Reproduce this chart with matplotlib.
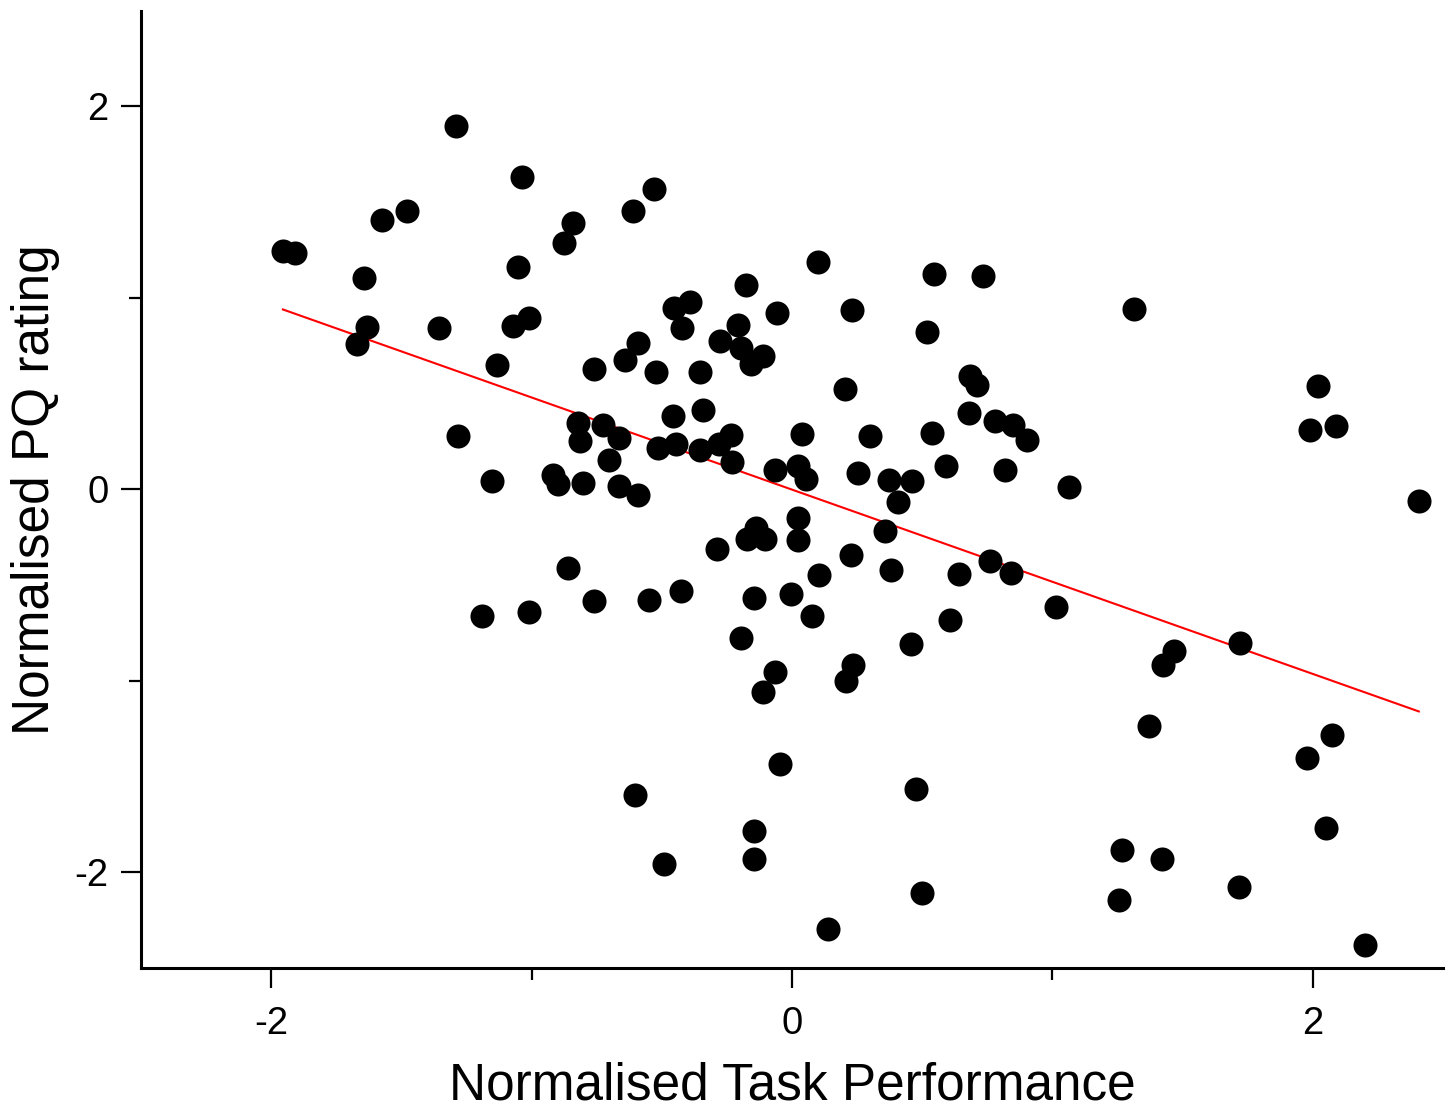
import numpy as np
import matplotlib
matplotlib.use("Agg")
import matplotlib.pyplot as plt
from matplotlib.ticker import MultipleLocator

plt.rcParams['font.family'] = ['Liberation Sans', 'DejaVu Sans']
plt.rcParams['axes.unicode_minus'] = False

# Normalised task performance (x) and normalised PQ rating (y) per participant
task_performance = [
    -1.292, -1.037, -1.574, -1.477, -0.839, -0.876, -1.955, -1.908, -1.643, -1.054,
    -1.633, -1.671, -1.356, -1.072, -1.009, -1.133, -0.762, -1.282, -0.822, -0.813,
    -0.726, -0.666, -0.701, -1.153, -0.918, -0.899, -0.803, -0.663, -0.592, -0.528,
    -0.609, 0.100, 0.544, 0.735, -0.176, -0.393, -0.452, -0.421, -0.058, 0.232,
    0.519, -0.209, -0.277, -0.196, -0.111, -0.158, -0.592, -0.640, -0.523, -0.355,
    0.202, 0.685, 0.712, 0.681, 0.778, 0.850, 0.903, -0.457, -0.342, -0.514,
    -0.446, -0.353, -0.281, -0.235, -0.231, 0.040, 0.298, 0.539, 0.593, 0.819,
    -0.066, 0.024, 0.052, 0.252, 0.371, 0.461, 0.408, 0.023, 0.023, 0.356,
    -0.137, -0.103, -0.174, -0.287, 0.228, 0.381, 0.104, -0.425, -0.146, -0.003,
    0.078, 0.642, 0.759, 0.840, 1.012, 0.608, -0.194, 0.456, 0.234, 0.206,
    -0.066, -0.112, -0.045, 0.475, -0.145, -0.145, 0.499, 0.138, -0.862, -0.761,
    -0.548, -1.190, -1.009, -0.601, -0.492, 1.315, 2.018, 1.991, 2.090, 2.407,
    1.064, 1.425, 1.468, 1.720, 1.370, 2.075, 1.976, 2.050, 1.269, 1.421,
    1.255, 1.716, 2.200,
]
pq_rating = [
    1.900, 1.630, 1.409, 1.454, 1.393, 1.287, 1.243, 1.235, 1.104, 1.162,
    0.848, 0.759, 0.843, 0.855, 0.895, 0.650, 0.629, 0.280, 0.348, 0.254,
    0.334, 0.268, 0.155, 0.044, 0.077, 0.028, 0.033, 0.019, -0.030, 1.569,
    1.456, 1.189, 1.125, 1.113, 1.069, 0.980, 0.948, 0.843, 0.919, 0.939,
    0.820, 0.856, 0.773, 0.736, 0.698, 0.654, 0.765, 0.677, 0.614, 0.611,
    0.526, 0.590, 0.545, 0.398, 0.359, 0.336, 0.256, 0.381, 0.416, 0.216,
    0.236, 0.205, 0.239, 0.283, 0.142, 0.289, 0.279, 0.293, 0.120, 0.102,
    0.102, 0.120, 0.056, 0.084, 0.051, 0.045, -0.067, -0.148, -0.263, -0.216,
    -0.200, -0.258, -0.258, -0.312, -0.343, -0.422, -0.449, -0.529, -0.570, -0.548,
    -0.664, -0.443, -0.375, -0.436, -0.614, -0.683, -0.776, -0.809, -0.916, -1.000,
    -0.954, -1.059, -1.432, -1.565, -1.783, -1.930, -2.110, -2.296, -0.409, -0.585,
    -0.576, -0.660, -0.642, -1.596, -1.955, 0.944, 0.538, 0.308, 0.333, -0.059,
    0.014, -0.916, -0.846, -0.802, -1.238, -1.283, -1.405, -1.769, -1.886, -1.929,
    -2.143, -2.077, -2.378,
]

x = np.asarray(task_performance)
y = np.asarray(pq_rating)

fig = plt.figure(figsize=(14.5, 11.16), dpi=100)
ax = fig.add_axes([0.0972, 0.1326, 0.8980, 0.8578])

ax.scatter(x, y, s=300, color='black', linewidths=0, zorder=3)

# Least-squares regression line across the observed x range
slope, intercept = np.polyfit(x, y, 1)
xs = np.array([x.min(), x.max()])
ax.plot(xs, slope * xs + intercept, color='#ff0000', linewidth=1.5, zorder=2)

ax.set_xlim(-2.5, 2.5)
ax.set_ylim(-2.5, 2.5)

for side in ('top', 'right'):
    ax.spines[side].set_visible(False)
for side in ('left', 'bottom'):
    ax.spines[side].set_linewidth(2.2)

ax.xaxis.set_major_locator(MultipleLocator(2))
ax.xaxis.set_minor_locator(MultipleLocator(1))
ax.yaxis.set_major_locator(MultipleLocator(2))
ax.yaxis.set_minor_locator(MultipleLocator(1))
ax.tick_params(axis='both', which='major', direction='out', length=14.5, width=1.6,
               labelsize=27.5)
ax.tick_params(axis='both', which='minor', direction='out', length=8.5, width=1.6)
ax.tick_params(axis='x', which='major', pad=13)
ax.tick_params(axis='y', which='major', pad=9)

ax.set_xlabel('Normalised Task Performance', fontsize=37, labelpad=14)
ax.set_ylabel('Normalised PQ rating', fontsize=37, labelpad=10)

fig.savefig('out.png', dpi=100, facecolor='white')
